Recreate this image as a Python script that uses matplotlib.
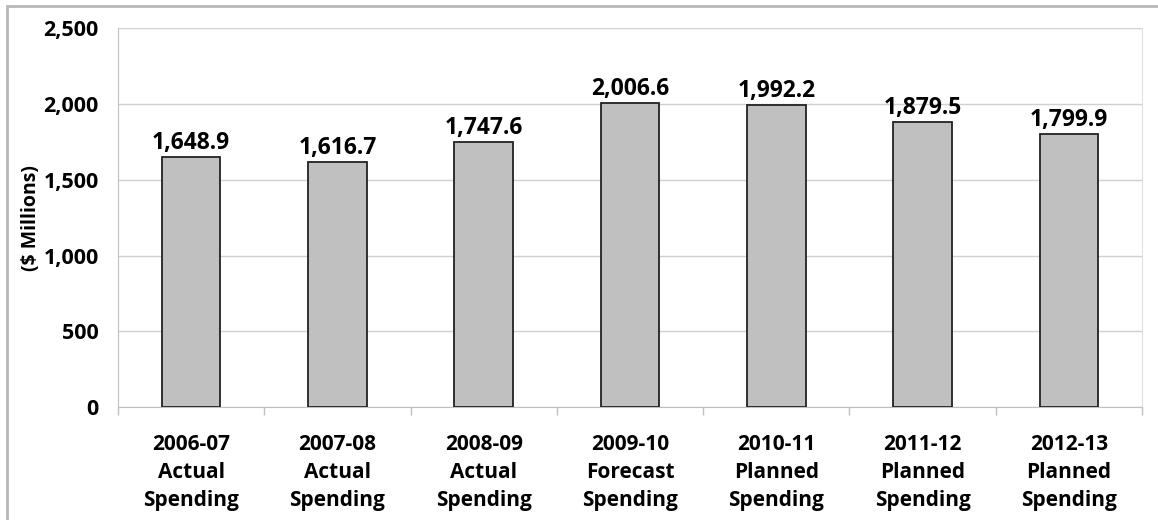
import matplotlib.pyplot as plt
from matplotlib.patches import Rectangle
from matplotlib.ticker import FuncFormatter, MultipleLocator

plt.rcParams['font.family'] = ['Open Sans', 'DejaVu Sans']
plt.rcParams['font.weight'] = 'bold'

years = ["2006-07", "2007-08", "2008-09", "2009-10", "2010-11", "2011-12", "2012-13"]
kinds = ["Actual", "Actual", "Actual", "Forecast", "Planned", "Planned", "Planned"]
spending = [1648.9, 1616.7, 1747.6, 2006.6, 1992.2, 1879.5, 1799.9]

labels = [y + "\n" + k + "\nSpending" for y, k in zip(years, kinds)]
x = list(range(len(years)))

fig = plt.figure(figsize=(11.58, 5.2), dpi=100)
ax = fig.add_axes([0.1019, 0.217, 0.8843, 0.729])

bars = ax.bar(x, spending, width=0.4, color="#c0c0c0", edgecolor="#222222", linewidth=1.3, zorder=3)
for xi, v in zip(x, spending):
    ax.text(xi, v + 12, f"{v:,.1f}", ha="center", va="bottom", fontsize=16.5, fontweight="bold", zorder=4)

ax.set_xlim(-0.5, len(years) - 0.5)
ax.set_ylim(0, 2500)
ax.yaxis.set_major_locator(MultipleLocator(500))
ax.yaxis.set_major_formatter(FuncFormatter(lambda v, p: f"{v:,.0f}"))
ax.grid(axis="y", color="#d0d0d0", linewidth=1, zorder=0)

ax.set_xticks(x)
ax.set_xticklabels(labels, fontsize=15, fontweight="bold", linespacing=1.45)
ax.set_xticks([i - 0.5 for i in range(len(years) + 1)], minor=True)
ax.tick_params(axis="x", which="major", length=0, pad=19)
ax.tick_params(axis="x", which="minor", length=6, color="#c0c0c0", width=1)
ax.tick_params(axis="y", length=0, labelsize=15.5, pad=14)
for t in ax.get_yticklabels():
    t.set_fontweight("bold")

ax.set_ylabel("($ Millions)", fontsize=14, fontweight="bold", labelpad=2)

ax.spines["left"].set_color("#c0c0c0")
ax.spines["bottom"].set_color("#c0c0c0")
ax.spines["right"].set_color("#e0e0e0")
ax.spines["top"].set_visible(False)

fig.patches.append(Rectangle((0.006, -0.1), 1.2, 1.088, transform=fig.transFigure,
                             fill=False, edgecolor="#b8b8b8", linewidth=2))

fig.savefig("out.png", dpi=100)
